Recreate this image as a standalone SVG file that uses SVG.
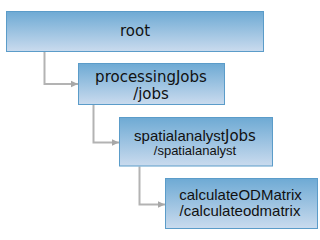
<svg xmlns="http://www.w3.org/2000/svg" width="320" height="240" viewBox="0 0 320 240">
<defs>
<linearGradient id="g" x1="0" y1="0" x2="0" y2="1">
<stop offset="0" stop-color="#6eaad4"/>
<stop offset="1" stop-color="#cadbee"/>
</linearGradient>
<marker id="ah" markerWidth="8" markerHeight="8" refX="7" refY="4" orient="auto" markerUnits="userSpaceOnUse">
<path d="M0,0.8 L7,4 L0,7.2 Z" fill="#a8a8a8"/>
</marker>
<style>
.box{fill:url(#g);stroke:#5b9cc9;stroke-width:1}
.c{fill:none;stroke:#b3b3b3;stroke-width:2;marker-end:url(#ah)}
.t{font-family:"DejaVu Sans",Verdana,sans-serif;font-size:15px;fill:#111;text-anchor:middle}
.a{font-family:"Liberation Sans",Arial,sans-serif;font-size:15px;fill:#111;text-anchor:middle}
.s{font-family:"Liberation Sans",Arial,sans-serif;font-size:13px;fill:#111;text-anchor:middle}
</style>
</defs>
<rect width="320" height="240" fill="#ffffff"/>
<g id="connectors">
<path class="c" d="M44.5,51.5 V84 H78"/>
<path class="c" d="M93.5,104.5 V142.5 H119"/>
<path class="c" d="M139.5,166.5 V204.5 H165"/>
</g>
<g id="root">
<rect class="box" x="6.5" y="11.5" width="257" height="40"/>
<text class="t" x="135" y="36">root</text>
</g>
<g id="processingJobs">
<rect class="box" x="78.5" y="63.5" width="146" height="41"/>
<text class="t" x="151" y="82">processingJobs</text>
<text class="t" x="151" y="99">/jobs</text>
</g>
<g id="spatialanalystJobs">
<rect class="box" x="119.5" y="117.5" width="153" height="48.5"/>
<text class="a" x="195" y="141">spatialanalyst<tspan font-family="DejaVu Sans,sans-serif" font-size="15">Jobs</tspan></text>
<text class="s" x="195" y="154.5">/spatialanalyst</text>
</g>
<g id="calculateODMatrix">
<rect class="box" x="165.5" y="178.5" width="152" height="50"/>
<text class="a" x="240.5" y="199.5">calculateODMatrix</text>
<text class="a" x="240" y="216">/calculateodmatrix</text>
</g>
</svg>
